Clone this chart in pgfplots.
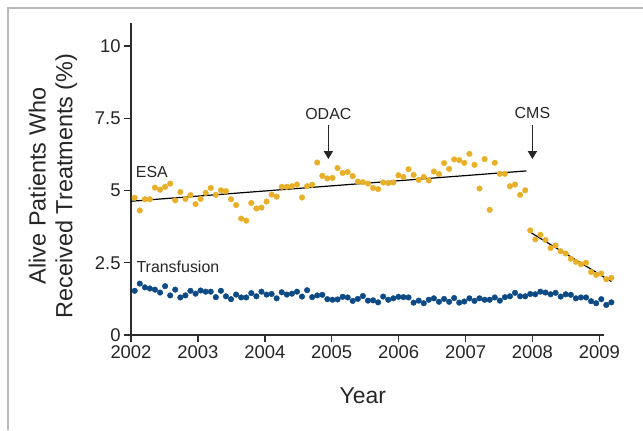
\documentclass[border=0pt]{standalone}
\usepackage{fontspec}
\setmainfont{Liberation Sans}
\usepackage{pgfplots}
\pgfplotsset{compat=1.18}
\usepackage{pgfplotstable}
\usetikzlibrary{arrows.meta}
\definecolor{esa}{RGB}{232,176,40}
\definecolor{trf}{RGB}{12,74,134}
\definecolor{axisgray}{RGB}{45,45,45}

\pgfplotstableread{
x esa tr
2002.055 4.75 1.53
2002.131 4.31 1.78
2002.207 4.70 1.65
2002.282 4.70 1.61
2002.358 5.10 1.57
2002.434 5.03 1.47
2002.510 5.13 1.69
2002.586 5.24 1.37
2002.661 4.66 1.57
2002.737 4.95 1.30
2002.813 4.71 1.37
2002.889 4.84 1.53
2002.965 4.53 1.43
2003.040 4.71 1.54
2003.116 4.92 1.50
2003.192 5.09 1.50
2003.268 4.85 1.31
2003.344 5.01 1.53
2003.419 4.98 1.34
2003.495 4.70 1.24
2003.571 4.50 1.40
2003.647 4.03 1.30
2003.723 3.96 1.30
2003.798 4.57 1.45
2003.874 4.38 1.34
2003.950 4.41 1.50
2004.026 4.62 1.40
2004.102 4.86 1.42
2004.177 4.79 1.27
2004.253 5.13 1.48
2004.329 5.13 1.40
2004.405 5.15 1.43
2004.481 5.21 1.50
2004.556 4.76 1.33
2004.632 5.15 1.55
2004.708 5.20 1.31
2004.784 5.97 1.37
2004.860 5.51 1.39
2004.935 5.42 1.24
2005.011 5.44 1.22
2005.087 5.78 1.23
2005.163 5.61 1.32
2005.239 5.64 1.30
2005.314 5.50 1.18
2005.390 5.31 1.25
2005.466 5.29 1.35
2005.542 5.24 1.19
2005.618 5.09 1.20
2005.693 5.05 1.13
2005.769 5.28 1.33
2005.845 5.26 1.22
2005.921 5.28 1.27
2005.997 5.53 1.32
2006.072 5.47 1.31
2006.148 5.74 1.30
2006.224 5.54 1.12
2006.300 5.37 1.19
2006.376 5.47 1.10
2006.451 5.35 1.22
2006.527 5.66 1.27
2006.603 5.57 1.15
2006.679 5.95 1.25
2006.755 5.75 1.15
2006.830 6.08 1.28
2006.906 6.05 1.12
2006.982 5.96 1.16
2007.058 6.27 1.27
2007.134 5.89 1.18
2007.209 5.07 1.27
2007.285 6.09 1.22
2007.361 4.33 1.22
2007.437 5.96 1.30
2007.513 5.58 1.19
2007.588 5.58 1.31
2007.664 5.15 1.34
2007.740 5.21 1.46
2007.816 4.85 1.34
2007.892 5.01 1.34
2007.967 3.62 1.42
2008.043 3.31 1.41
2008.119 3.47 1.50
2008.195 3.29 1.47
2008.271 3.01 1.41
2008.346 3.10 1.46
2008.422 2.90 1.33
2008.498 2.82 1.41
2008.574 2.64 1.39
2008.650 2.53 1.27
2008.725 2.45 1.30
2008.801 2.50 1.30
2008.877 2.18 1.17
2008.953 2.08 1.10
2009.029 2.13 1.24
2009.104 1.93 1.04
2009.180 1.98 1.13
}\datatable

\begin{document}
\begin{tikzpicture}[x=1bp,y=1bp]
\path[use as bounding box] (0,0) rectangle (643,430);
\draw[gray!55, line width=1.2bp] (8,0) -- (8,422) -- (643,422);
\begin{axis}[
  at={(131bp,95bp)}, anchor=south west,
  scale only axis, width=473bp, height=312bp,
  xmin=2002, xmax=2009.07, ymin=0, ymax=10.8,
  axis x line=bottom, axis y line=left,
  axis line style={-, axisgray, line width=1.4bp},
  tick style={axisgray, line width=1.4bp},
  tick align=outside, major tick length=7bp,
  xtick={2002,2003,2004,2005,2006,2007,2008,2009},
  ytick={0,2.5,5,7.5,10},
  /pgf/number format/assume math mode=true,
  xticklabel style={/pgf/number format/1000 sep={}, font=\fontsize{18.5}{20}\selectfont, text=black!85},
  yticklabel style={font=\fontsize{18.5}{20}\selectfont, text=black!85},
  xlabel={Year},
  xlabel style={font=\fontsize{23}{25}\selectfont, text=black!85, at={(axis description cs:0.49,0)}, anchor=center, yshift=-61bp},
  ylabel={Alive Patients Who\\Received Treatments (\%)},
  ylabel style={align=center, font=\fontsize{23.5}{27}\selectfont, text=black!85, at={(axis description cs:-0.165,0.478)}, anchor=center},
  clip=false,
]
\addplot[trf, only marks, mark=*, mark size=2.8bp, mark options={draw=none, fill=trf}] table[x=x, y=tr] {\datatable};
\addplot[esa, only marks, mark=*, mark size=2.8bp, mark options={draw=none, fill=esa}] table[x=x, y=esa] {\datatable};
\addplot[black, line width=1.2bp, no marks] coordinates {(2002.0,4.63) (2007.91,5.68)};
\addplot[black, line width=1.2bp, no marks] coordinates {(2007.98,3.54) (2009.18,1.85)};
\node[anchor=west, inner sep=0, font=\fontsize{16}{18}\selectfont, text=black!85] at (axis cs:2002.07,5.64) {ESA};
\node[anchor=west, inner sep=0, font=\fontsize{16}{18}\selectfont, text=black!85] at (axis cs:2002.08,2.36) {Transfusion};
\node[inner sep=0, font=\fontsize{16}{18}\selectfont, text=black!85] at (axis cs:2004.95,7.65) {ODAC};
\node[inner sep=0, font=\fontsize{16}{18}\selectfont, text=black!85] at (axis cs:2008.0,7.68) {CMS};
\draw[-{Triangle[width=9bp,length=8bp]}, line width=1.7bp, black!85] (axis cs:2004.95,7.27) -- (axis cs:2004.95,6.09);
\draw[-{Triangle[width=9bp,length=8bp]}, line width=1.7bp, black!85] (axis cs:2008.0,7.27) -- (axis cs:2008.0,6.09);
\end{axis}
\end{tikzpicture}
\end{document}
